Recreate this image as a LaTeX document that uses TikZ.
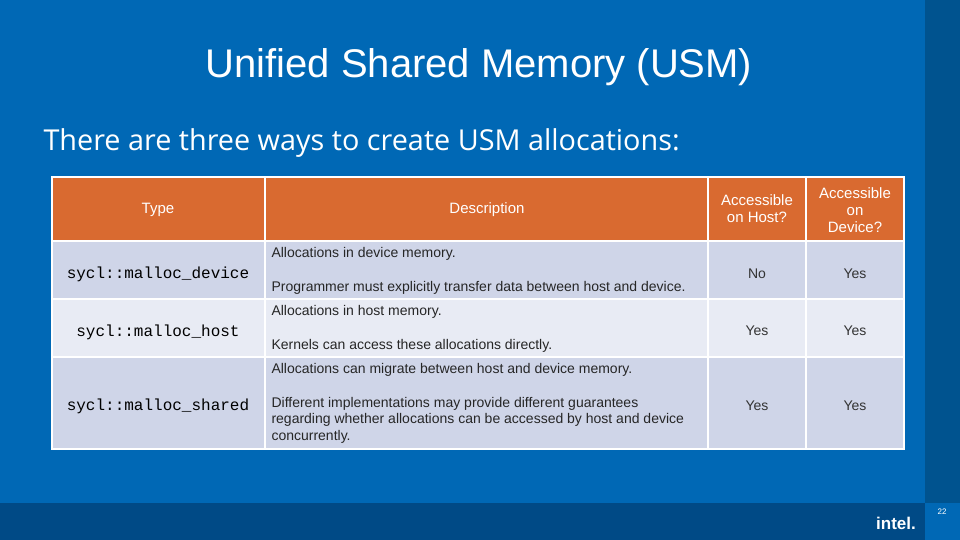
\documentclass[tikz,border=0pt]{standalone}
\usepackage{fontspec}
\setmainfont{Liberation Sans}
\newfontfamily\subfont{Open Sans}
\setmonofont{Liberation Mono}
\definecolor{slideblue}{HTML}{0068B5}
\definecolor{darkstrip}{HTML}{00538F}
\definecolor{bottomband}{HTML}{004A86}
\definecolor{headorange}{HTML}{D96A30}
\definecolor{rowdark}{HTML}{CFD5E8}
\definecolor{rowlight}{HTML}{E8EBF4}
\tikzset{
  cell/.style={draw=white, line width=1.5pt},
  headtext/.style={text=white, font=\fontsize{15}{17}\selectfont, align=center},
  typetext/.style={font=\ttfamily\fontsize{16}{18}\selectfont, text=black},
  desctext/.style={font=\fontsize{14}{16.5}\selectfont, text=black!85, anchor=west, align=left},
  yesno/.style={font=\fontsize{14}{16}\selectfont, text=black!80}
}
\begin{document}
\begin{tikzpicture}[x=1pt,y=-1pt]
    \useasboundingbox (0,0) rectangle (960,540);
    % Background
    \fill[slideblue] (0,0) rectangle (960,540);
    \fill[darkstrip] (925,0) rectangle (960,503);
    \fill[bottomband] (0,503) rectangle (925,540);

    % Title and subtitle
    \node[text=white, font=\fontsize{40}{44}\selectfont] (title) at (479,67) {Unified Shared Memory (USM)};
    \node[text=white, font=\subfont\fontsize{28.8}{32}\selectfont, anchor=west] (sub) at (40,143) {There are three ways to create USM allocations:};

    % Table cells
    \foreach \xa/\xb in {52/265,265/708,708/806,806/904} {
        \draw[cell, fill=headorange] (\xa,177) rectangle (\xb,241);
        \draw[cell, fill=rowdark] (\xa,241) rectangle (\xb,299);
        \draw[cell, fill=rowlight] (\xa,299) rectangle (\xb,357);
        \draw[cell, fill=rowdark] (\xa,357) rectangle (\xb,449);
    }

    % Header
    \node[headtext] (htype) at (158,210) {Type};
    \node[headtext] (hdesc) at (487,210) {Description};
    \node[headtext] (hhost) at (757,209) {Accessible\\on Host?};
    \node[headtext] (hdev) at (855,210) {Accessible\\on\\Device?};

    % Rows
    \node[typetext] (tdev) at (158,274) {sycl::malloc\_device};
    \node[typetext] (thost) at (158,332) {sycl::malloc\_host};
    \node[typetext] (tshared) at (158,406) {sycl::malloc\_shared};

    \node[desctext] (d1a) at (268,254) {Allocations in device memory.};
    \node[desctext] (d1b) at (268,288) {Programmer must explicitly transfer data between host and device.};
    \node[desctext] (d2a) at (268,312) {Allocations in host memory.};
    \node[desctext] (d2b) at (268,346) {Kernels can access these allocations directly.};
    \node[desctext] (d3a) at (268,370) {Allocations can migrate between host and device memory.};
    \node[desctext] (d3b) at (268,420) {Different implementations may provide different guarantees\\regarding whether allocations can be accessed by host and device\\concurrently.};

    \node[yesno] (h1) at (757,274) {No};
    \node[yesno] (v1) at (855,274) {Yes};
    \node[yesno] (h2) at (757,331) {Yes};
    \node[yesno] (v2) at (855,331) {Yes};
    \node[yesno] (h3) at (757,406) {Yes};
    \node[yesno] (v3) at (855,406) {Yes};

    % Footer
    \node[text=white, font=\bfseries\fontsize{17}{19}\selectfont] (logo) at (896,523) {intel.};
    \node[text=white, font=\fontsize{8}{9}\selectfont] (page) at (942,512) {22};
\end{tikzpicture}
\end{document}
